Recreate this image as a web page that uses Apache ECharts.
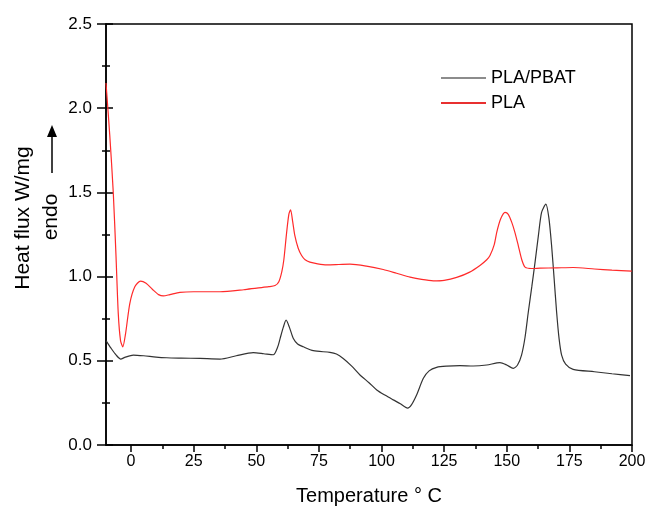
<!DOCTYPE html>
<html>
<head>
<meta charset="utf-8">
<title>DSC</title>
<script src="https://cdn.jsdelivr.net/npm/echarts@6/dist/echarts.min.js"></script>
<style>
  html, body { margin: 0; padding: 0; background: #fff; }
  #chart { width: 649px; height: 511px; }
</style>
</head>
<body>
<div id="chart"></div>
<script>
// temperature (°C) and heat flux (W/mg)
var plaT = [-10, -8.5, -7.1, -6, -5.1, -4.2, -3.3, -2.2, -0.5, 1.5, 3.8, 6, 8.5, 11, 12.9, 15.5, 19.5, 25, 35.5, 45, 50.2, 55, 57.5, 59, 60.2, 61, 62.1, 63, 63.7, 64.5, 65.4, 66.7, 68.1, 69.5, 71.4, 74.5, 78.1, 83, 87.4, 94, 100.7, 106, 111.4, 116, 120.7, 125, 130, 135, 139.3, 142, 143.3, 145, 146, 147.5, 149.3, 150.6, 152, 153.3, 154.6, 156, 157.3, 160, 163.3, 170, 176.5, 185, 192, 199.9];
var plaHF = [2.15, 1.84, 1.50, 1.12, 0.78, 0.62, 0.583, 0.66, 0.84, 0.94, 0.973, 0.96, 0.925, 0.893, 0.885, 0.893, 0.906, 0.91, 0.91, 0.922, 0.932, 0.94, 0.947, 0.97, 1.03, 1.10, 1.26, 1.37, 1.397, 1.33, 1.243, 1.17, 1.125, 1.10, 1.086, 1.076, 1.07, 1.072, 1.074, 1.062, 1.042, 1.02, 0.997, 0.983, 0.975, 0.978, 0.995, 1.025, 1.066, 1.10, 1.125, 1.19, 1.263, 1.34, 1.381, 1.37, 1.322, 1.26, 1.184, 1.10, 1.056, 1.048, 1.05, 1.052, 1.054, 1.045, 1.038, 1.032];

var blendT = [-10, -8, -6, -4.1, -2.5, 0.9, 5, 10, 14.2, 20, 27.5, 35.5, 42, 48.8, 53, 56.8, 58.5, 59.5, 60.8, 61.9, 63.2, 64.8, 66.5, 68.8, 72.8, 79.4, 82, 84.7, 88, 91.4, 95, 98.1, 101.5, 104.7, 107.5, 110.4, 112, 114, 116.7, 119, 122, 126, 131.3, 136.6, 142, 147.3, 150, 152.6, 154.3, 155.9, 157.3, 158.6, 160, 161.3, 162.6, 163.9, 165.6, 166.8, 167.9, 168.9, 169.9, 170.9, 171.9, 173.5, 176.5, 185, 192, 199.2];
var blendHF = [0.62, 0.575, 0.535, 0.51, 0.52, 0.534, 0.53, 0.522, 0.518, 0.516, 0.514, 0.51, 0.53, 0.548, 0.542, 0.536, 0.58, 0.632, 0.70, 0.741, 0.70, 0.632, 0.60, 0.583, 0.56, 0.55, 0.54, 0.514, 0.47, 0.416, 0.37, 0.327, 0.295, 0.268, 0.245, 0.219, 0.24, 0.297, 0.396, 0.44, 0.461, 0.468, 0.471, 0.469, 0.475, 0.489, 0.475, 0.455, 0.475, 0.534, 0.64, 0.79, 0.94, 1.086, 1.24, 1.381, 1.43, 1.35, 1.184, 0.99, 0.79, 0.63, 0.534, 0.48, 0.449, 0.435, 0.423, 0.412];

var xTicks = [0, 25, 50, 75, 100, 125, 150, 175, 200];
var xMinorTicks = [12.5, 37.5, 62.5, 87.5, 112.5, 137.5, 162.5, 187.5];

function pairs(xs, ys) {
  var out = [];
  for (var i = 0; i < xs.length; i++) out.push([xs[i], ys[i]]);
  return out;
}

var font = 'Liberation Sans, Arial, sans-serif';

var option = {
  animation: false,
  backgroundColor: '#fff',
  textStyle: { fontFamily: font },
  grid: {
    left: 106, right: 17, top: 24, bottom: 64,
    show: true, borderColor: '#000', borderWidth: 1.5
  },
  legend: {
    orient: 'vertical',
    left: 441, top: 69,
    padding: 0,
    icon: 'rect',
    itemWidth: 45, itemHeight: 2, itemGap: 7,
    textStyle: { fontSize: 18, color: '#000', fontFamily: font },
    data: [
      { name: 'PLA/PBAT', itemStyle: { color: '#8c8c8c' } },
      { name: 'PLA', itemStyle: { color: '#e83030' } }
    ]
  },
  xAxis: [{
    type: 'value',
    min: -10, max: 200,
    name: 'Temperature ° C',
    nameLocation: 'middle',
    nameGap: 41,
    nameTextStyle: { fontSize: 20, color: '#000', fontFamily: font },
    axisLine: { onZero: false, lineStyle: { color: '#000', width: 1.5 } },
    axisTick: { customValues: xTicks, length: 7, lineStyle: { color: '#000', width: 1.5 } },
    axisLabel: { customValues: xTicks, fontSize: 16, color: '#000', margin: 9, fontFamily: font },
    splitLine: { show: false }
  }, {
    type: 'value',
    min: -10, max: 200,
    position: 'bottom',
    axisLine: { show: false, onZero: false },
    axisTick: { customValues: xMinorTicks, length: 4, lineStyle: { color: '#000', width: 1.5 } },
    axisLabel: { show: false },
    splitLine: { show: false }
  }],
  yAxis: [{
    type: 'value',
    min: 0, max: 2.5, interval: 0.5,
    axisLine: { show: true, onZero: false, lineStyle: { color: '#000', width: 1.5 } },
    axisTick: { show: true, length: 9, lineStyle: { color: '#000', width: 1.5 } },
    minorTick: { show: true, splitNumber: 2, length: 4, lineStyle: { color: '#000', width: 1.5 } },
    axisLabel: {
      fontSize: 17, color: '#000', margin: 14, fontFamily: font,
      formatter: function (v) { return v.toFixed(1); }
    },
    splitLine: { show: false }
  }, {
    type: 'value',
    min: 0, max: 2.5, interval: 0.5,
    position: 'left',
    axisLine: { show: false, onZero: false },
    axisTick: { show: true, inside: true, length: 7, lineStyle: { color: '#000', width: 1.5 } },
    minorTick: { show: true, splitNumber: 2, length: 4, lineStyle: { color: '#000', width: 1.5 } },
    axisLabel: { show: false },
    splitLine: { show: false }
  }],
  graphic: [{
    type: 'text',
    x: 23, y: 218,
    rotation: Math.PI / 2,
    style: {
      text: 'Heat flux W/mg',
      font: '21px ' + font,
      fill: '#000',
      align: 'center',
      verticalAlign: 'middle'
    }
  }, {
    type: 'text',
    x: 51, y: 217,
    rotation: Math.PI / 2,
    style: {
      text: 'endo',
      font: '21px ' + font,
      fill: '#000',
      align: 'center',
      verticalAlign: 'middle'
    }
  }, {
    type: 'line',
    shape: { x1: 52, y1: 173, x2: 52, y2: 136 },
    style: { stroke: '#000', lineWidth: 1.5 }
  }, {
    type: 'polygon',
    shape: { points: [[52, 125], [47, 137], [57, 137]] },
    style: { fill: '#000' }
  }],
  series: [{
    name: 'PLA/PBAT',
    type: 'line',
    data: pairs(blendT, blendHF),
    showSymbol: false,
    symbol: 'none',
    smooth: 0.25,
    lineStyle: { color: '#333', width: 1.2 },
    itemStyle: { color: '#333' }
  }, {
    name: 'PLA',
    type: 'line',
    data: pairs(plaT, plaHF),
    showSymbol: false,
    symbol: 'none',
    smooth: 0.25,
    lineStyle: { color: '#ff2a2a', width: 1.2 },
    itemStyle: { color: '#ff2a2a' }
  }]
};

var myChart = echarts.init(document.getElementById('chart'));
myChart.setOption(option);
</script>
</body>
</html>
